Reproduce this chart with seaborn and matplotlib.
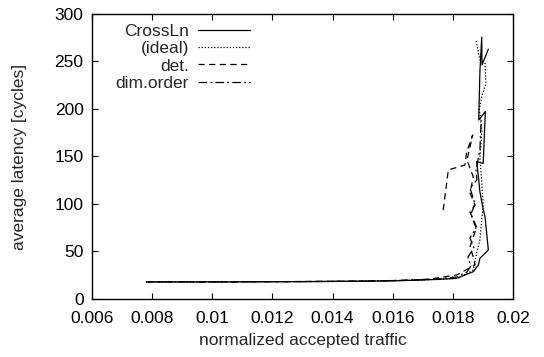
import matplotlib
matplotlib.use("Agg")
import matplotlib.pyplot as plt
import seaborn as sns
import pandas as pd
from matplotlib.ticker import FuncFormatter, MultipleLocator

# accepted traffic / latency readings per routing scheme
crossln_x = [0.0078, 0.0090, 0.0100, 0.0110, 0.0120, 0.0130, 0.0140, 0.0150, 0.0160, 0.0168, 0.0175,
             0.01813, 0.01868, 0.01885, 0.0189, 0.01918, 0.01907, 0.01899, 0.0189, 0.01885, 0.01879,
             0.01901, 0.01908, 0.01886, 0.0189, 0.01896, 0.01897, 0.01918]
crossln_y = [18, 18, 18, 18.1, 18.2, 18.3, 18.5, 18.7, 19.1, 19.8, 20.6,
             21.8, 28.7, 35.8, 42.8, 51.6, 86.6, 97.2, 112.9, 128.7, 144.5,
             142.8, 197.2, 188.4, 239.3, 275.5, 246.3, 262.8]

ideal_x = [0.0078, 0.0090, 0.0100, 0.0110, 0.0120, 0.0130, 0.0140, 0.0150, 0.0160, 0.0168, 0.0175,
           0.01817, 0.01868, 0.01879, 0.0189, 0.01896, 0.01901, 0.01896, 0.0189, 0.01897, 0.01888,
           0.01896, 0.0191, 0.01907, 0.0189, 0.01877]
ideal_y = [18, 18, 18, 18.1, 18.2, 18.3, 18.5, 18.8, 19.2, 19.9, 20.8,
           21.6, 30.5, 48.4, 62.1, 83.2, 98.9, 123.5, 148.1, 177.9, 198.9,
           213, 227, 248.1, 251.6, 272.6]

det_x = [0.0078, 0.0090, 0.0100, 0.0110, 0.0120, 0.0130, 0.0140, 0.0150, 0.0160, 0.0167, 0.01724,
         0.01813, 0.01874, 0.01868, 0.01857, 0.01879, 0.01857, 0.01874, 0.01857, 0.01868, 0.01847,
         0.01866, 0.01846, 0.0184, 0.01785, 0.01768]
det_y = [18, 18, 18, 18.1, 18.2, 18.4, 18.6, 18.9, 19.4, 20, 21,
         25.3, 35.8, 44.2, 54.7, 75.8, 91.6, 98.9, 111.6, 128.4, 146.3,
         172.6, 154.7, 141, 135.8, 93.7]

dimorder_x = [0.0078, 0.0090, 0.0100, 0.0110, 0.0120, 0.0130, 0.0140, 0.0150, 0.0160, 0.0168, 0.0175,
              0.01813, 0.01847, 0.0186, 0.0185, 0.0187, 0.01857, 0.01877, 0.0186, 0.01874, 0.01857,
              0.0188, 0.01877, 0.0189, 0.01894]
dimorder_y = [18, 18, 18, 18.1, 18.2, 18.3, 18.5, 18.8, 19.3, 20, 21.2,
              23.2, 28.4, 34.7, 44.2, 53.7, 64.2, 74.7, 89.5, 100, 116.8,
              125.3, 135.8, 156.8, 188.4]

series = [
    ("CrossLn", crossln_x, crossln_y, "-"),
    ("(ideal)", ideal_x, ideal_y, (0, (1, 1.5))),
    ("det.", det_x, det_y, (0, (5, 3.5))),
    ("dim.order", dimorder_x, dimorder_y, (0, (7, 2.5, 1.5, 2.5))),
]

sns.set_style("ticks")
plt.rcParams["font.family"] = ["Liberation Sans", "DejaVu Sans"]

fig = plt.figure(figsize=(5.44, 3.57), dpi=100)
ax = fig.add_axes([0.169, 0.1625, 0.774, 0.7985])

for name, xs, ys, ls in series:
    df = pd.DataFrame({"x": xs, "y": ys})
    sns.lineplot(data=df, x="x", y="y", ax=ax, sort=False, estimator=None,
                 color="black", linewidth=0.9, linestyle=ls, label=name)

ax.set_xlim(0.006, 0.02)
ax.set_ylim(0, 300)
ax.xaxis.set_major_locator(MultipleLocator(0.002))
ax.yaxis.set_major_locator(MultipleLocator(50))
ax.xaxis.set_major_formatter(FuncFormatter(lambda v, p: f"{v:g}"))
ax.tick_params(direction="in", top=True, right=True, length=4, width=0.8,
               labelsize=12.5, colors="black")
ax.tick_params(axis="x", pad=9)
ax.tick_params(axis="y", pad=6)
for s in ax.spines.values():
    s.set_linewidth(1.0)
    s.set_color("black")

ax.set_xlabel("normalized accepted traffic", fontsize=12.5, labelpad=5)
ax.set_ylabel("average latency [cycles]", fontsize=12.5, labelpad=20)

ax.legend(loc="upper right", bbox_to_anchor=(0.375, 0.965), frameon=False,
          markerfirst=False, handlelength=3.0, labelspacing=0.12, fontsize=12.5,
          borderpad=0, borderaxespad=0, handletextpad=0.5)
for t in ax.get_legend().get_texts():
    t.set_ha("right")

fig.savefig("out.png", dpi=100)
